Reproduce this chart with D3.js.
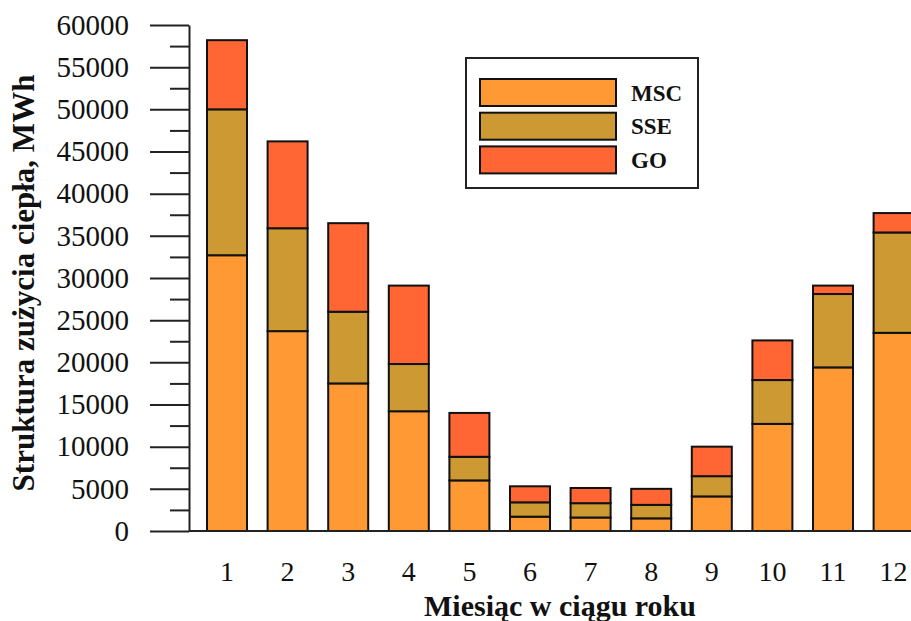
<!DOCTYPE html>
<html lang="pl">
<head>
  <meta charset="utf-8">
  <style>
    html, body {
      margin: 0;
      padding: 0;
      background: #fff;
      width: 100%;
      height: 100%;
      overflow: hidden;
    }
    svg {
      display: block;
      font-family: "Liberation Serif", "Times New Roman", serif;
    }
  </style>
</head>
<body>
<svg width="911" height="621"></svg>

<script src="https://d3js.org/d3.v7.min.js"></script>
<script>
// dane (MWh)
const months = ["1", "2", "3", "4", "5", "6", "7", "8", "9", "10", "11", "12"];
const seriesNames = ["MSC", "SSE", "GO"];
const msc = [32700, 23700, 17500, 14200, 6000, 1700, 1600, 1500, 4100, 12700, 19400, 23500];
const sse = [17300, 12200, 8500, 5600, 2800, 1700, 1700, 1600, 2400, 5200, 8700, 11900];
const go  = [8200, 10300, 10500, 9300, 5200, 1900, 1800, 1900, 3500, 4700, 1000, 2300];
const yTicks = [0, 5000, 10000, 15000, 20000, 25000, 30000, 35000, 40000, 45000, 50000, 55000, 60000];

const svg = d3.select("svg");
const width = 911;

const colors = d3.scaleOrdinal()
  .domain(seriesNames)
  .range(["#FF9933", "#CC9933", "#FF6633"]);

const rows = months.map((m, i) => ({ month: m, MSC: msc[i], SSE: sse[i], GO: go[i] }));
const stacked = d3.stack().keys(seriesNames)(rows);

const y = d3.scaleLinear().domain([0, 60000]).range([531, 25]);
const x = d3.scaleBand()
  .domain(months)
  .range([196.7, 923.9])
  .paddingInner(0.34)
  .paddingOuter(0.17);

const axisX = 189;

// Słupki
svg.append("g")
  .selectAll("g")
  .data(stacked)
  .join("g")
  .attr("fill", d => colors(d.key))
  .selectAll("rect")
  .data(d => d)
  .join("rect")
  .attr("x", d => x(d.data.month))
  .attr("y", d => y(d[1]))
  .attr("width", x.bandwidth())
  .attr("height", d => y(d[0]) - y(d[1]))
  .attr("stroke", "#111")
  .attr("stroke-width", 2);

// linia bazowa
svg.append("line")
  .attr("x1", axisX).attr("x2", width)
  .attr("y1", y(0)).attr("y2", y(0))
  .attr("stroke", "#222")
  .attr("stroke-width", 2);

// Oś Y - podziałka pomocnicza
const minor = d3.range(2500, 60000, 5000);
svg.append("g")
  .attr("transform", `translate(${axisX},0)`)
  .call(d3.axisLeft(y).tickValues(minor).tickSize(19).tickFormat(""))
  .call(g => g.select(".domain").remove())
  .selectAll("line").attr("stroke", "#222").attr("stroke-width", 2);

// Oś Y - główna
const gy = svg.append("g")
  .attr("transform", `translate(${axisX},0)`)
  .call(d3.axisLeft(y).tickValues(yTicks).tickSize(39).tickSizeOuter(0).tickPadding(21).tickFormat(d3.format("d")));
gy.select(".domain").attr("stroke", "#222").attr("stroke-width", 2);
gy.selectAll(".tick line").attr("stroke", "#222").attr("stroke-width", 2);
gy.selectAll("text")
  .attr("font-family", "Liberation Serif")
  .attr("font-size", 29)
  .attr("fill", "#111");

// Oś X
const gx = svg.append("g")
  .attr("transform", `translate(0,${y(0)})`)
  .call(d3.axisBottom(x).tickSize(0).tickPadding(30));
gx.select(".domain").remove();
gx.selectAll("text")
  .attr("font-family", "Liberation Serif")
  .attr("font-size", 28)
  .attr("fill", "#111");

// Tytuły osi
svg.append("text")
  .attr("transform", "translate(34,283) rotate(-90)")
  .attr("text-anchor", "middle")
  .attr("font-weight", "bold")
  .attr("font-size", 31)
  .attr("fill", "#111")
  .text("Struktura zużycia ciepła, MWh");

svg.append("text")
  .attr("x", 560)
  .attr("y", 616)
  .attr("text-anchor", "middle")
  .attr("font-weight", "bold")
  .attr("font-size", 30)
  .attr("fill", "#111")
  .text("Miesiąc w ciągu roku");

// Legenda
const legend = svg.append("g").attr("transform", "translate(466,58)");
legend.append("rect")
  .attr("width", 232)
  .attr("height", 130)
  .attr("fill", "#fff")
  .attr("stroke", "#222")
  .attr("stroke-width", 2);

const item = legend.selectAll(".item")
  .data(seriesNames)
  .join("g")
  .attr("class", "item")
  .attr("transform", (d, i) => `translate(14,${21 + i * 33.7})`);

item.append("rect")
  .attr("width", 136)
  .attr("height", 27)
  .attr("fill", d => colors(d))
  .attr("stroke", "#111")
  .attr("stroke-width", 2);

item.append("text")
  .attr("x", 151)
  .attr("y", 21.5)
  .attr("font-weight", "bold")
  .attr("font-size", 23)
  .attr("fill", "#111")
  .text(d => d);
</script>
</body>
</html>
